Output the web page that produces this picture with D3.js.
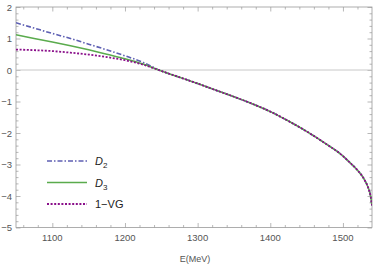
<!DOCTYPE html>
<html>
<head>
<meta charset="utf-8">
<script src="https://cdn.jsdelivr.net/npm/d3@7/dist/d3.min.js"></script>
<style>
body { margin: 0; background: #fff; }
text { font-family: "Liberation Sans", Arial, sans-serif; }
</style>
</head>
<body>
<svg id="chart" width="374" height="267"></svg>
<script>
// energies (MeV) and curve values
var energy = [1050, 1075, 1100, 1125, 1150, 1175, 1200, 1225, 1250, 1275, 1300, 1325, 1350, 1375,
	1400, 1425, 1450, 1475, 1500, 1510, 1520, 1530, 1535, 1538, 1540];
var tail = [-0.03, -0.23, -0.43, -0.64, -0.85, -1.07, -1.32, -1.62, -1.95, -2.32, -2.73, -2.95, -3.18, -3.50, -3.75, -4.0, -4.3];
var d2 = [1.50, 1.33, 1.16, 1.00, 0.82, 0.64, 0.45, 0.24].concat(tail);
var d3v = [1.12, 1.00, 0.89, 0.77, 0.64, 0.50, 0.36, 0.19].concat(tail);
var vg = [0.65, 0.63, 0.60, 0.55, 0.49, 0.41, 0.31, 0.17].concat(tail);
var xTicks = [1100, 1200, 1300, 1400, 1500];
var yTicks = [2, 1, 0, -1, -2, -3, -4, -5];

var series = [
	{name: 'D', sub: '2', values: d2, color: '#5d5fb3', dash: '5,2,1.5,2', width: 1.6},
	{name: 'D', sub: '3', values: d3v, color: '#5aab4d', dash: null, width: 1.5},
	{name: '1\u2212VG', sub: null, values: vg, color: '#8a0f8a', dash: '2,1.6', width: 1.8}
];

var svg = d3.select('#chart');
var pLeft = 16, pRight = 372, pTop = 7, pBottom = 227.5;

var x = d3.scaleLinear().domain([1050, 1540]).range([pLeft, pRight]);
var y = d3.scaleLinear().domain([-5, 2]).range([pBottom, pTop]);

var gray = '#999';
var minorX = d3.range(1060, 1540, 20).filter(function(v) { return v % 100 != 0; });
var minorY = d3.range(-5, 2.01, 0.2).filter(function(v) { return Math.abs(v - Math.round(v)) > 0.01; });

// frame with inward ticks on all sides
function tickAxis(axis, scale, vals, size, tr) {
	var g = svg.append('g').attr('transform', tr)
		.call(axis(scale).tickValues(vals).tickSize(size).tickFormat(''));
	g.select('.domain').remove();
	g.selectAll('line').attr('stroke', gray).attr('stroke-width', 0.7);
}
tickAxis(d3.axisTop, x, minorX, 2.5, 'translate(0,' + pBottom + ')');
tickAxis(d3.axisTop, x, xTicks, 4.5, 'translate(0,' + pBottom + ')');
tickAxis(d3.axisBottom, x, minorX, 2.5, 'translate(0,' + pTop + ')');
tickAxis(d3.axisBottom, x, xTicks, 4.5, 'translate(0,' + pTop + ')');
tickAxis(d3.axisRight, y, minorY, 2.5, 'translate(' + pLeft + ',0)');
tickAxis(d3.axisRight, y, yTicks, 4.5, 'translate(' + pLeft + ',0)');
tickAxis(d3.axisLeft, y, minorY, 2.5, 'translate(' + pRight + ',0)');
tickAxis(d3.axisLeft, y, yTicks, 4.5, 'translate(' + pRight + ',0)');

svg.append('rect')
	.attr('x', pLeft).attr('y', pTop)
	.attr('width', pRight - pLeft).attr('height', pBottom - pTop)
	.attr('fill', 'none').attr('stroke', gray).attr('stroke-width', 0.8);

// tick labels
svg.append('g').selectAll('text').data(xTicks).enter().append('text')
	.attr('x', function(d) { return x(d); })
	.attr('y', 241)
	.attr('text-anchor', 'middle')
	.attr('font-size', 9.5)
	.attr('fill', '#555')
	.text(function(d) { return d; });
svg.append('g').selectAll('text').data(yTicks).enter().append('text')
	.attr('x', 12)
	.attr('y', function(d) { return y(d) + 3.5; })
	.attr('text-anchor', 'end')
	.attr('font-size', 9.5)
	.attr('fill', '#555')
	.text(function(d) { return d < 0 ? '\u2212' + (-d) : d; });

svg.append('text')
	.attr('x', 195).attr('y', 262)
	.attr('text-anchor', 'middle')
	.attr('font-size', 9)
	.attr('fill', '#555')
	.text('E(MeV)');

// zero line
svg.append('line')
	.attr('x1', pLeft).attr('x2', pRight)
	.attr('y1', y(0)).attr('y2', y(0))
	.attr('stroke', '#c8c8c8').attr('stroke-width', 1);

// curves
var line = d3.line()
	.x(function(d, i) { return x(energy[i]); })
	.y(function(d) { return y(d); })
	.curve(d3.curveMonotoneX);

svg.append('clipPath').attr('id', 'plotclip').append('rect')
	.attr('x', pLeft).attr('y', pTop).attr('width', pRight - pLeft).attr('height', pBottom - pTop);

series.forEach(function(s) {
	svg.append('path')
		.attr('d', line(s.values))
		.attr('clip-path', 'url(#plotclip)')
		.attr('fill', 'none')
		.attr('stroke', s.color)
		.attr('stroke-width', s.width)
		.attr('stroke-dasharray', s.dash);
});

// legend
var legend = svg.append('g');
series.forEach(function(s, i) {
	var ly = 161 + i * 21.5;
	legend.append('line')
		.attr('x1', 47).attr('x2', 87)
		.attr('y1', ly).attr('y2', ly)
		.attr('stroke', s.color)
		.attr('stroke-width', s.width)
		.attr('stroke-dasharray', s.dash);
	var t = legend.append('text')
		.attr('x', 95).attr('y', ly + 4)
		.attr('font-size', 11)
		.attr('fill', '#222');
	if (s.sub) {
		t.append('tspan').attr('font-style', 'italic').text(s.name);
		t.append('tspan').attr('font-size', 8).attr('dy', 3).text(s.sub);
	} else {
		t.text(s.name);
	}
});
</script>
</body>
</html>
